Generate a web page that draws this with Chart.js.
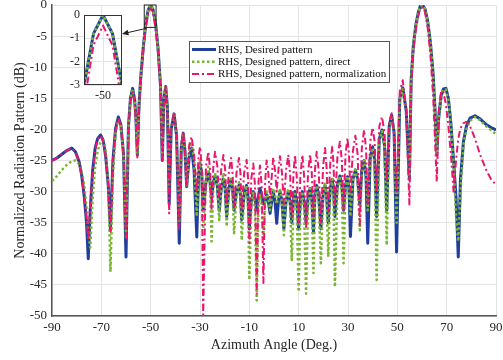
<!DOCTYPE html>
<html>
<head>
<meta charset="utf-8">
<script src="https://cdn.jsdelivr.net/npm/chart.js@4.4.1/dist/chart.umd.min.js"></script>
<style>
    html, body { margin: 0; padding: 0; background: #fff; }
    #wrap { position: relative; width: 503px; height: 360px; }
    #main { position: absolute; left: 0; top: 0; }
    #inset { position: absolute; left: 58px; top: 6px; }
</style>
</head>
<body>
<div id="wrap">
    <canvas id="main" width="503" height="360"></canvas>
    <canvas id="inset" width="72" height="100"></canvas>
</div>
<script>
const angles = [
    -90, -88, -86, -84, -82, -80.5, -79, -78, -77, -76,
    -75.3, -74.5, -73.5, -72.5, -71.5, -70.3, -69.2, -68.2, -67.2, -66.3,
    -65.3, -64.2, -63.1, -62.1, -61, -60, -59, -58.2, -57.3, -56.5,
    -56, -55.4, -54.7, -54, -53, -52, -51, -50, -49, -48,
    -47, -46, -45.3, -44.6, -43.9, -43.2, -42.5, -41.7, -40.5, -39.5,
    -38.4, -37.6, -36.8, -36.1, -35.4, -34.4, -33.4, -32.4, -31.3, -30.6,
    -30, -29.3, -28.7, -27.6, -26.6, -25.9, -25.3, -24.6, -23.9, -23,
    -22.2, -21.4, -20.5, -19.8, -19.2, -18.3, -17.4, -16.8, -16.2, -15.2,
    -14.2, -13.6, -13.1, -12.1, -11.1, -10.5, -10, -9.2, -8.4, -7.7,
    -7, -6.3, -5.7, -5, -4.3, -3.6, -3, -2.3, -1.6, -0.9,
    -0.3, 0.4, 1.1, 1.8, 2.4, 3.2, 4, 4.9, 5.8, 6.5,
    7.2, 7.9, 8.5, 9.2, 10, 10.7, 11.5, 12.2, 13, 13.8,
    14.6, 15.3, 16, 16.6, 17.3, 18.1, 19, 19.9, 20.7, 21.3,
    22, 22.8, 23.6, 24.1, 24.7, 25.7, 26.7, 27.5, 28.2, 29,
    29.8, 30.4, 31, 32, 33, 33.9, 34.8, 35.6, 36.5, 37.3,
    38, 39, 40, 40.8, 41.6, 42.7, 43.8, 44.8, 45.7, 46.7,
    47.7, 48.7, 49.7, 51, 52.2, 53.6, 54.9, 55.6, 56.5, 57.5,
    58.5, 59.3, 60.2, 61.2, 62.3, 63.4, 64.5, 65.3, 66, 66.8,
    67.8, 68.7, 69.7, 70.7, 71.7, 72.8, 73.8, 74.7, 75.6, 76.8,
    78, 79.5, 81.5, 83.5, 86, 88, 90,
];

// RHS, desired pattern (dB)
const desired = [
    -25.0, -24.6, -24.0, -23.4, -23.0, -23.6, -25.2, -27.3, -30.5, -35.0,
    -40.8, -33.0, -26.5, -23.0, -21.5, -20.9, -21.8, -24.5, -29.0, -36.2,
    -25.0, -19.8, -18.0, -19.2, -24.0, -40.5, -19.5, -15.0, -13.4, -15.2,
    -18.0, -24.1, -16.0, -11.5, -6.8, -3.0, -0.8, 0, -0.8, -3.0,
    -7.0, -13.0, -25.0, -15.0, -13.1, -16.5, -32.0, -20.0, -17.5, -21.0,
    -38.3, -23.0, -20.6, -23.5, -29.2, -24.5, -23.0, -26.5, -37.3, -27.5,
    -25.5, -27.0, -33.0, -28.5, -27.0, -28.5, -31.0, -28.5, -27.5, -29.0,
    -33.0, -29.5, -28.0, -29.5, -34.0, -29.5, -28.0, -29.5, -33.0, -30.0,
    -29.0, -30.5, -34.5, -30.5, -29.0, -31.0, -36.0, -31.5, -30.0, -31.0,
    -33.0, -31.0, -29.5, -30.5, -32.0, -31.5, -30.5, -31.5, -33.5, -31.5,
    -30.0, -31.5, -35.1, -31.5, -30.0, -31.5, -36.0, -31.5, -30.0, -31.5,
    -35.0, -31.5, -30.0, -31.5, -36.0, -31.5, -30.0, -31.5, -35.0, -31.0,
    -29.5, -31.0, -36.5, -30.5, -29.0, -30.5, -36.0, -30.5, -29.0, -30.5,
    -35.0, -29.5, -28.0, -29.5, -34.0, -29.0, -27.5, -29.0, -33.0, -29.0,
    -27.6, -29.5, -37.2, -28.0, -26.5, -28.0, -32.0, -26.5, -25.0, -27.5,
    -38.3, -24.5, -22.8, -25.0, -34.0, -21.5, -20.1, -22.5, -33.0, -19.5,
    -17.7, -20.5, -39.7, -15.0, -13.3, -17.0, -28.0, -12.0, -6.5, -3.2,
    -1.2, -0.2, 0, -0.6, -2.6, -6.0, -11.0, -17.0, -24.0, -18.0,
    -14.5, -13.5, -13.4, -15.0, -19.0, -25.0, -31.0, -40.5, -28.0, -22.0,
    -19.5, -18.2, -17.8, -18.3, -19.2, -19.7, -20.1,
];

// RHS, designed pattern, direct (dB)
const direct = [
    -28.3, -27.5, -26.5, -25.7, -25.1, -25.0, -25.6, -26.8, -28.8, -32.5,
    -36.5, -39.0, -31.0, -26.0, -23.5, -22.0, -21.8, -23.5, -29.0, -42.9,
    -27.5, -20.5, -18.5, -19.5, -24.0, -37.5, -19.5, -15.2, -13.6, -15.4,
    -18.0, -24.0, -16.0, -11.5, -6.8, -3.0, -0.8, 0, -0.8, -3.0,
    -7.0, -13.0, -24.5, -15.0, -13.0, -16.3, -30.0, -20.0, -17.3, -21.0,
    -35.0, -23.0, -20.6, -23.5, -29.0, -23.5, -22.0, -25.0, -34.0, -27.0,
    -25.0, -27.5, -36.0, -28.0, -26.0, -29.5, -38.0, -29.0, -27.0, -29.0,
    -34.6, -29.5, -27.0, -29.5, -35.6, -30.0, -28.0, -30.0, -36.7, -30.5,
    -28.5, -31.0, -37.8, -31.0, -29.0, -33.0, -44.2, -32.0, -30.0, -33.0,
    -47.5, -32.5, -30.5, -32.0, -37.0, -32.0, -30.0, -31.0, -33.0, -31.0,
    -29.5, -30.5, -32.0, -31.0, -29.5, -31.5, -37.0, -31.0, -29.5, -32.0,
    -41.0, -32.5, -30.0, -33.0, -46.1, -33.0, -30.0, -33.0, -46.4, -32.5,
    -29.5, -32.0, -43.1, -31.5, -29.0, -31.5, -41.5, -31.0, -28.5, -31.0,
    -40.5, -30.0, -28.0, -31.0, -45.3, -30.0, -27.5, -30.0, -41.5, -29.5,
    -27.5, -29.5, -34.0, -28.0, -26.5, -28.5, -36.2, -26.5, -25.0, -27.0,
    -33.0, -24.5, -23.0, -25.5, -44.2, -21.8, -20.3, -22.8, -38.6, -19.6,
    -17.8, -20.5, -35.0, -15.2, -13.5, -17.0, -28.0, -12.0, -6.5, -3.2,
    -1.2, -0.2, 0, -0.6, -2.6, -6.0, -11.0, -17.0, -24.0, -18.0,
    -14.5, -13.6, -13.6, -15.2, -19.2, -25.5, -34.0, -38.0, -30.0, -22.5,
    -20.0, -18.6, -18.0, -18.5, -19.5, -20.1, -20.8,
];

// RHS, designed pattern, normalization (dB)
const normalization = [
    -25.0, -24.6, -24.0, -23.4, -23.0, -23.6, -25.2, -27.3, -30.5, -34.5,
    -37.8, -32.0, -26.8, -23.2, -21.6, -21.0, -21.9, -24.5, -29.0, -36.4,
    -25.0, -20.0, -18.2, -19.4, -24.0, -37.5, -19.5, -15.5, -14.0, -15.8,
    -18.5, -24.5, -16.5, -12.0, -7.4, -3.8, -1.3, -0.45, -1.3, -3.8,
    -7.6, -13.6, -25.0, -15.2, -13.2, -16.8, -33.5, -20.0, -17.2, -20.5,
    -36.0, -22.5, -20.4, -23.5, -29.2, -22.6, -21.2, -24.0, -30.0, -24.5,
    -22.8, -26.0, -49.8, -26.0, -23.6, -26.5, -33.0, -26.0, -23.6, -25.8,
    -31.0, -26.5, -24.1, -26.5, -32.0, -26.8, -24.6, -27.0, -32.5, -27.0,
    -24.6, -27.0, -33.0, -27.0, -24.9, -28.0, -38.3, -28.0, -25.5, -29.0,
    -46.4, -28.5, -25.8, -29.0, -44.7, -28.5, -25.0, -27.0, -31.0, -27.5,
    -24.5, -26.5, -30.0, -26.5, -24.3, -26.8, -32.0, -26.5, -24.1, -27.0,
    -34.0, -27.0, -24.1, -27.5, -35.0, -27.5, -24.1, -27.5, -36.0, -27.0,
    -24.0, -27.0, -34.0, -26.5, -23.6, -26.5, -35.0, -26.0, -23.0, -26.0,
    -33.0, -25.5, -22.8, -25.5, -32.0, -24.5, -22.0, -25.0, -33.0, -24.0,
    -21.4, -24.0, -30.0, -23.5, -21.0, -24.0, -35.4, -23.0, -20.1, -23.0,
    -32.0, -22.0, -19.7, -22.0, -30.0, -19.5, -18.0, -20.5, -28.0, -18.8,
    -17.4, -21.0, -30.0, -13.8, -12.1, -17.0, -32.2, -13.0, -7.5, -4.0,
    -1.7, -0.6, -0.4, -1.1, -3.6, -8.0, -14.5, -22.0, -28.4, -17.0,
    -13.8, -14.0, -16.0, -19.5, -24.0, -30.0, -25.0, -21.5, -19.8, -19.0,
    -18.8, -19.5, -21.5, -24.0, -26.5, -28.0, -28.9,
];

const seriesLabels = [
    'RHS, Desired pattern',
    'RHS, Designed pattern, direct',
    'RHS, Designed pattern, normalization',
];

const xTicks = [-90, -70, -50, -30, -10, 10, 30, 50, 70, 90];
const yTicks = [0, -5, -10, -15, -20, -25, -30, -35, -40, -45, -50];
const insetXTicks = [-50];
const insetYTicks = [0, -1, -2, -3];

// zoomed window marked on the main plot, and the inset's ranges
const zoomBoxX = [-52.6, -47.8];
const zoomBoxY = [-3.6, 0];
const insetXRange = [-52, -48];
const insetYRange = [-3, 0];

const FONT = "'Liberation Serif', 'Times New Roman', serif";
const styles = [
    { color: '#1f3f9b', width: 3, dash: [], order: 3 },
    { color: '#7ab532', width: 2.5, dash: [2.5, 2.5], order: 2 },
    { color: '#e8176c', width: 2, dash: [7, 3, 2, 3], order: 1 },
];

const buildDatasets = () => [desired, direct, normalization].map((values, i) => ({
    label: seriesLabels[i],
    data: angles.map((a, k) => ({ x: a, y: values[k] })),
    borderColor: styles[i].color,
    backgroundColor: styles[i].color,
    borderWidth: styles[i].width,
    borderDash: styles[i].dash,
    borderCapStyle: 'butt',
    borderJoinStyle: 'round',
    pointRadius: 0,
    tension: 0,
    order: styles[i].order,
}));

const fixedTicks = (list) => (scale) => {
    scale.ticks = list.map((v) => ({ value: v }));
};

const insetFrame = {
    id: 'insetFrame',
    beforeDraw(chart) {
        const { ctx, chartArea: a } = chart;
        ctx.save();
        ctx.fillStyle = '#fff';
        ctx.fillRect(a.left, a.top, a.right - a.left, a.bottom - a.top);
        ctx.restore();
    },
    afterDraw(chart) {
        const { ctx, chartArea: a } = chart;
        ctx.save();
        ctx.strokeStyle = '#333';
        ctx.lineWidth = 1;
        ctx.strokeRect(a.left + 0.5, a.top + 0.5, a.right - a.left - 1, a.bottom - a.top - 1);
        ctx.restore();
    },
};

const insetCanvas = document.getElementById('inset');
const insetChart = new Chart(insetCanvas, {
    type: 'line',
    data: { datasets: buildDatasets() },
    options: {
        responsive: false,
        animation: false,
        layout: { padding: { top: 9, right: 8, left: 0, bottom: 0 } },
        plugins: { legend: { display: false }, tooltip: { enabled: false } },
        scales: {
            x: {
                type: 'linear',
                min: insetXRange[0],
                max: insetXRange[1],
                afterBuildTicks: fixedTicks(insetXTicks),
                afterFit: (s) => { s.height = 21; },
                grid: { color: '#e4e4e4', drawTicks: false },
                border: { display: false },
                ticks: { font: { family: FONT, size: 12 }, color: '#262626', padding: 4, maxRotation: 0 },
            },
            y: {
                min: insetYRange[0],
                max: insetYRange[1],
                afterBuildTicks: fixedTicks(insetYTicks),
                afterFit: (s) => { s.width = 26; },
                grid: { color: '#e4e4e4', drawTicks: false },
                border: { display: false },
                ticks: { font: { family: FONT, size: 12, lineHeight: 0.7 }, color: '#262626', padding: 4 },
            },
        },
    },
    plugins: [insetFrame],
});

const overlay = {
    id: 'overlay',
    afterDatasetsDraw(chart) {
        const { ctx, scales: { x, y } } = chart;
        const x0 = x.getPixelForValue(zoomBoxX[0]);
        const x1 = x.getPixelForValue(zoomBoxX[1]);
        const y0 = y.getPixelForValue(zoomBoxY[1]);
        const y1 = y.getPixelForValue(zoomBoxY[0]);
        ctx.save();
        ctx.strokeStyle = '#222';
        ctx.lineWidth = 1;
        ctx.strokeRect(x0, y0, x1 - x0, y1 - y0);

        // arrow from the marked window to the inset
        const a = insetChart.chartArea;
        const tipX = insetCanvas.offsetLeft + a.right;
        const tipY = insetCanvas.offsetTop + a.top + (a.bottom - a.top) * 0.27;
        const fromX = x0 + 2;
        const fromY = y1 + 1;
        const ang = Math.atan2(tipY - fromY, tipX - fromX);
        ctx.beginPath();
        ctx.moveTo(fromX, fromY);
        ctx.lineTo(tipX - Math.cos(ang) * 5, tipY - Math.sin(ang) * 5);
        ctx.stroke();
        ctx.beginPath();
        ctx.moveTo(tipX, tipY);
        ctx.lineTo(tipX - 7 * Math.cos(ang - 0.4), tipY - 7 * Math.sin(ang - 0.4));
        ctx.lineTo(tipX - 7 * Math.cos(ang + 0.4), tipY - 7 * Math.sin(ang + 0.4));
        ctx.closePath();
        ctx.fillStyle = '#222';
        ctx.fill();
        ctx.restore();
    },
    afterDraw(chart) {
        const { ctx } = chart;
        const box = { left: 189, top: 41, width: 200, height: 41 };
        ctx.save();
        ctx.fillStyle = '#fff';
        ctx.fillRect(box.left, box.top, box.width, box.height);
        ctx.strokeStyle = '#555';
        ctx.lineWidth = 1;
        ctx.strokeRect(box.left + 0.5, box.top + 0.5, box.width, box.height);
        ctx.font = `11px ${FONT}`;
        ctx.textBaseline = 'middle';
        chart.data.datasets.forEach((ds, i) => {
            const rowY = box.top + 8.5 + i * 12.3;
            ctx.beginPath();
            ctx.setLineDash(ds.borderDash);
            ctx.strokeStyle = ds.borderColor;
            ctx.lineWidth = ds.borderWidth;
            ctx.moveTo(box.left + 3, rowY);
            ctx.lineTo(box.left + 27, rowY);
            ctx.stroke();
            ctx.setLineDash([]);
            ctx.fillStyle = '#111';
            ctx.fillText(ds.label, box.left + 29, rowY + 0.5);
        });
        ctx.restore();
    },
};

new Chart(document.getElementById('main'), {
    type: 'line',
    data: { datasets: buildDatasets() },
    options: {
        responsive: false,
        animation: false,
        layout: { padding: { top: 0, right: 0, left: 0, bottom: 0 } },
        plugins: { legend: { display: false }, tooltip: { enabled: false } },
        scales: {
            x: {
                type: 'linear',
                min: -90,
                max: 90,
                afterBuildTicks: fixedTicks(xTicks),
                afterFit: (s) => { s.height = 44; },
                grid: { color: '#e4e4e4', drawTicks: false },
                border: { color: '#555', width: 1.5 },
                // small padding keeps the right edge near the canvas; the tall
                // line height pushes the labels back down
                ticks: { font: { family: FONT, size: 13, lineHeight: 1.77 }, color: '#262626', padding: 0.5, maxRotation: 0 },
                title: {
                    display: true,
                    text: 'Azimuth Angle (Deg.)',
                    font: { family: FONT, size: 14 },
                    color: '#262626',
                    padding: { top: 0, bottom: 6.5 },
                },
            },
            y: {
                min: -50,
                max: 0,
                afterBuildTicks: fixedTicks(yTicks),
                afterFit: (s) => { s.width = 52; },
                grid: { color: '#e4e4e4', drawTicks: false },
                border: { color: '#555', width: 1.5 },
                ticks: { font: { family: FONT, size: 13, lineHeight: 0 }, color: '#262626', padding: 5 },
                title: {
                    display: true,
                    text: 'Normalized Radiation Pattern (dB)',
                    font: { family: FONT, size: 14 },
                    color: '#262626',
                    padding: { top: 12, bottom: 0 },
                },
            },
        },
    },
    plugins: [overlay],
});
</script>
</body>
</html>
